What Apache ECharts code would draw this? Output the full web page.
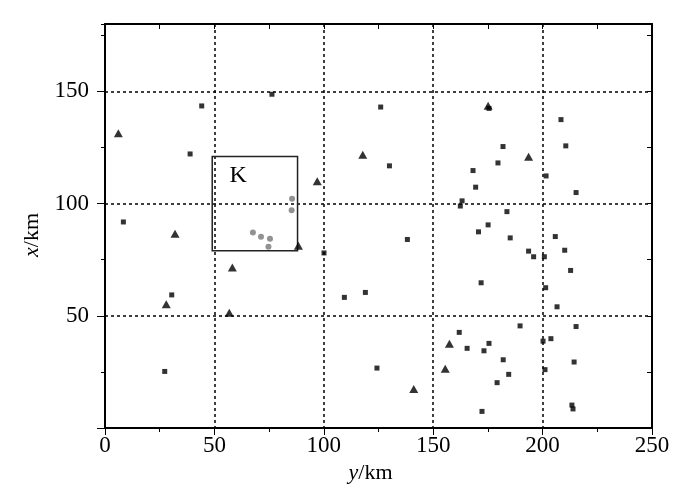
<!DOCTYPE html>
<html>
<head>
<meta charset="utf-8">
<script src="https://cdn.jsdelivr.net/npm/echarts@6/dist/echarts.min.js"></script>
<style>
    html, body { margin: 0; padding: 0; background: #fff; }
    #chart { width: 691px; height: 490px; }
</style>
</head>
<body>
<div id="chart"></div>
<script>
    // points are [y/km, x/km]
    var squarePoints = [
        [44.2, 143.5], [76.3, 148.7], [38.9, 122.1], [8.4, 91.8], [30.5, 59.3], [27.3, 25.2],
        [100.1, 78.0], [109.4, 58.2], [126.0, 143.0], [130.0, 116.8], [168.2, 114.7], [169.4, 107.3],
        [163.2, 101.2], [162.4, 98.9], [175.1, 90.5], [170.7, 87.4], [138.2, 84.0], [208.4, 137.4],
        [181.9, 125.4], [210.6, 125.7], [179.6, 118.1], [201.6, 112.3], [215.3, 104.9], [183.7, 96.4],
        [185.2, 84.7], [205.8, 85.3], [193.6, 78.8], [195.9, 76.3], [200.8, 76.3], [210.1, 79.2],
        [212.8, 70.2], [171.9, 64.7], [201.4, 62.5], [119.0, 60.4], [206.6, 54.0], [189.7, 45.5],
        [215.3, 45.2], [161.9, 42.6], [175.5, 37.7], [200.2, 38.7], [203.8, 39.8], [165.5, 35.5],
        [173.2, 34.4], [182.0, 30.4], [214.4, 29.4], [124.3, 26.7], [201.1, 26.0], [184.5, 23.9],
        [179.2, 20.2], [172.3, 7.4], [213.4, 10.2], [213.9, 8.5], [175.5, 142.4]
    ];
    var trianglePoints = [
        [6.1, 131.3], [32.0, 86.6], [58.2, 71.5], [28.0, 55.1], [56.8, 51.3], [88.4, 81.2],
        [97.0, 109.9], [117.8, 121.8], [175.1, 143.6], [193.6, 120.8], [157.4, 37.5], [155.5, 26.4],
        [141.1, 17.4]
    ];
    var circlePoints = [
        [85.5, 102.1], [85.3, 97.0], [67.6, 87.1], [71.3, 85.2], [75.4, 84.3], [74.7, 80.7]
    ];
    // K region: [left, bottom], [right, top]
    var kBox = [[49, 79], [88, 121]];
    var xTickLabels = [0, 50, 100, 150, 200, 250];
    var yTickLabels = [50, 100, 150];
    var yMajorTicks = [0, 50, 100, 150];

    var serif = '"Liberation Serif", "DejaVu Serif", serif';

    // helper for the extra tick-only axes (25 km steps)
    function tickAxis(pos, max, showLine, inside, len) {
        return {
            type: 'value',
            position: pos,
            min: 0,
            max: max,
            interval: 25,
            axisLine: { show: showLine, onZero: false, lineStyle: { color: '#000', width: 2 } },
            axisTick: { show: true, inside: inside, length: len, lineStyle: { color: '#000' } },
            axisLabel: { show: false },
            splitLine: { show: false }
        }
    }

    var myChart = echarts.init(document.getElementById('chart'));
    myChart.setOption({
        animation: false,
        backgroundColor: '#fff',
        grid: {
            left: 105,
            right: 39,
            top: 24,
            bottom: 62
        },
        xAxis: [
            {
                type: 'value',
                position: 'bottom',
                min: 0,
                max: 250,
                interval: 50,
                name: '{i|y}/km',
                nameLocation: 'middle',
                nameGap: 28,
                nameTextStyle: {
                    color: '#000',
                    fontFamily: serif,
                    fontSize: 22,
                    padding: [0, 16, 0, 0],
                    rich: {
                        i: { fontStyle: 'italic', fontFamily: serif, fontSize: 22, color: '#000' }
                    }
                },
                axisLine: { onZero: false, lineStyle: { color: '#000', width: 2 } },
                axisTick: { show: true, length: 7, lineStyle: { color: '#000', width: 1 } },
                axisLabel: {
                    color: '#000',
                    fontFamily: serif,
                    fontSize: 23,
                    margin: 6,
                    customValues: xTickLabels
                },
                splitLine: {
                    show: true,
                    lineStyle: { color: '#000', type: [3, 3], width: 1.5 }
                }
            },
            tickAxis('top', 250, true, true, 5),
            tickAxis('bottom', 250, false, false, 4)
        ],
        yAxis: [
            {
                type: 'value',
                position: 'left',
                min: 0,
                max: 180,
                interval: 50,
                name: '{i|x}/km',
                nameLocation: 'middle',
                nameRotate: 90,
                nameGap: 53,
                nameTextStyle: {
                    color: '#000',
                    fontFamily: serif,
                    fontSize: 22,
                    padding: [0, 18, 0, 0],
                    rich: {
                        i: { fontStyle: 'italic', fontFamily: serif, fontSize: 22, color: '#000' }
                    }
                },
                axisLine: { show: true, onZero: false, lineStyle: { color: '#000', width: 2 } },
                axisTick: {
                    show: true,
                    length: 8,
                    customValues: yMajorTicks,
                    lineStyle: { color: '#000', width: 1 }
                },
                axisLabel: {
                    color: '#000',
                    fontFamily: serif,
                    fontSize: 23,
                    margin: 16,
                    customValues: yTickLabels
                },
                splitLine: {
                    show: true,
                    lineStyle: { color: '#000', type: [3, 3], width: 1.5 }
                }
            },
            tickAxis('right', 180, true, true, 5),
            tickAxis('left', 180, false, false, 4)
        ],
        series: [
            {
                name: 'circles',
                type: 'scatter',
                symbol: 'circle',
                symbolSize: 6,
                itemStyle: { color: '#777' },
                data: circlePoints,
                markArea: {
                    silent: true,
                    itemStyle: {
                        color: 'rgba(0,0,0,0)',
                        borderColor: '#222',
                        borderWidth: 1.5
                    },
                    label: {
                        show: true,
                        position: 'insideTopLeft',
                        distance: 0,
                        offset: [18, 8],
                        color: '#000',
                        fontFamily: serif,
                        fontSize: 24
                    },
                    data: [
                        [
                            { name: 'K', coord: kBox[0] },
                            { coord: kBox[1] }
                        ]
                    ]
                }
            },
            {
                name: 'squares',
                type: 'scatter',
                symbol: 'rect',
                symbolSize: 5,
                itemStyle: { color: '#000' },
                data: squarePoints
            },
            {
                name: 'triangles',
                type: 'scatter',
                symbol: 'triangle',
                symbolSize: [9, 8],
                itemStyle: { color: '#000' },
                data: trianglePoints
            }
        ]
    });
</script>
</body>
</html>
